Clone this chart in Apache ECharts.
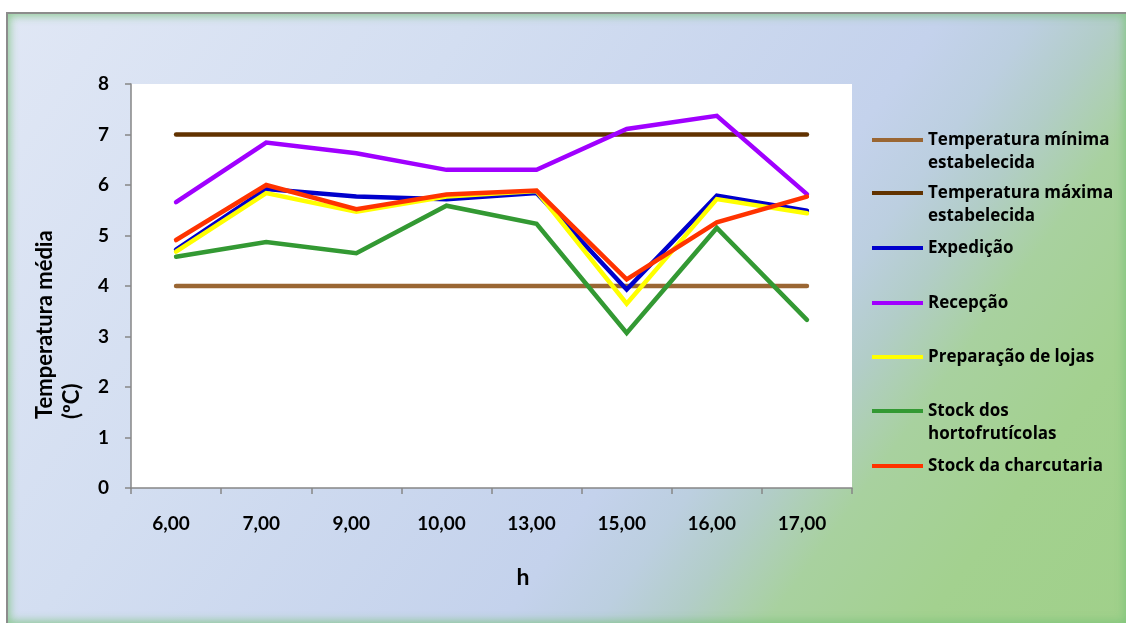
<!DOCTYPE html>
<html>
<head>
<meta charset="utf-8">
<title>Temperatura média por hora</title>
<script src="https://cdn.jsdelivr.net/npm/echarts@6/dist/echarts.min.js"></script>
<style>
  html, body { margin: 0; padding: 0; background: #ffffff; }
  #panel {
    position: absolute; left: 6px; top: 12px; width: 1120px; height: 611px;
    box-sizing: border-box;
    border-top: 2px solid #8c8c8c; border-left: 2px solid #8c8c8c;
    background: linear-gradient(126deg, #e0e7f5 0%, #d3def1 30%, #c4d2ec 60%, #bccfe0 66%, #b2cdc8 71%, #a8d19f 77%, #a3d18f 87%, #a0d08a 100%);
    box-shadow: inset 0 0 9px 2px rgba(120, 195, 120, 0.75);
  }
  #chart { position: absolute; left: 0; top: 0; width: 1126px; height: 623px; }
</style>
</head>
<body>
<div id="panel"></div>
<div id="chart"></div>
<script>
// Hours of measurement (x axis categories)
const hours = ['6,00', '7,00', '9,00', '10,00', '13,00', '15,00', '16,00', '17,00'];

// Reference limits (ºC)
const tempMinima = [4, 4, 4, 4, 4, 4, 4, 4];
const tempMaxima = [7, 7, 7, 7, 7, 7, 7, 7];

// Mean temperature per area (ºC)
const expedicao = [4.72, 5.92, 5.77, 5.72, 5.84, 3.93, 5.79, 5.49];
const rececao = [5.66, 6.84, 6.63, 6.30, 6.30, 7.11, 7.37, 5.82];
const preparacaoLojas = [4.68, 5.84, 5.47, 5.77, 5.88, 3.65, 5.72, 5.44];
const stockHortofruticolas = [4.58, 4.87, 4.65, 5.59, 5.23, 3.07, 5.15, 3.33];
const stockCharcutaria = [4.91, 6.00, 5.52, 5.81, 5.89, 4.13, 5.26, 5.77];

// Y axis ticks
const yTicks = [0, 1, 2, 3, 4, 5, 6, 7, 8];

const seriesDefs = [
  { name: 'Temperatura mínima\nestabelecida', data: tempMinima, color: '#9a6633' },
  { name: 'Temperatura máxima\nestabelecida', data: tempMaxima, color: '#613200' },
  { name: 'Expedição', data: expedicao, color: '#0000cc' },
  { name: 'Recepção', data: rececao, color: '#a000ff' },
  { name: 'Preparação de lojas', data: preparacaoLojas, color: '#ffff00' },
  { name: 'Stock dos\nhortofrutícolas', data: stockHortofruticolas, color: '#339933' },
  { name: 'Stock da charcutaria', data: stockCharcutaria, color: '#ff3300' }
];

// vertical position of each legend entry's line
const legendTops = [140, 193, 248, 303, 357, 411, 466];

const FONT = 'Lato, "Liberation Sans", sans-serif';
const LEGEND_FONT = '"Open Sans", Lato, sans-serif';

const chart = echarts.init(document.getElementById('chart'), null, { renderer: 'canvas' });

const legends = seriesDefs.map((s, i) => {
  const twoLines = s.name.indexOf('\n') >= 0;
  return {
    data: [s.name],
    orient: 'vertical',
    left: 872,
    top: legendTops[i] - (twoLines ? 34.5 : 11.5),
    icon: 'rect',
    itemWidth: 51,
    itemHeight: 4,
    itemGap: 0,
    padding: 0,
    selectedMode: false,
    // a blank first line keeps the first text line level with the legend line
    formatter: name => (twoLines ? ' \n' + name : name),
    textStyle: {
      fontFamily: LEGEND_FONT,
      fontSize: 17,
      fontWeight: 'bold',
      color: '#000000',
      lineHeight: 23
    }
  };
});

const option = {
  backgroundColor: 'transparent',
  animation: false,
  grid: { left: 131, top: 84, width: 721, height: 404, backgroundColor: '#ffffff', show: true, borderWidth: 0 },
  legend: legends,
  xAxis: {
    type: 'category',
    data: hours,
    boundaryGap: true,
    axisLine: { lineStyle: { color: '#868686', width: 1.5 } },
    axisTick: { show: true, length: 6, interval: 0, lineStyle: { color: '#868686', width: 1.5 } },
    axisLabel: {
      interval: 0, margin: 26, color: '#000000',
      fontFamily: FONT, fontSize: 19, fontWeight: 'bold',
      padding: [0, 10, 0, 0]
    }
  },
  yAxis: {
    type: 'value',
    min: yTicks[0],
    max: yTicks[yTicks.length - 1],
    interval: 1,
    splitLine: { show: false },
    axisLine: { show: true, lineStyle: { color: '#868686', width: 1.5 } },
    axisTick: { show: true, length: 6, lineStyle: { color: '#868686', width: 1.5 } },
    axisLabel: { margin: 22, color: '#000000', fontFamily: FONT, fontSize: 19, fontWeight: 'bold' }
  },
  graphic: [
    {
      type: 'text',
      x: 31, y: 419,
      rotation: Math.PI / 2,
      style: {
        text: 'Temperatura média\n(ºC)',
        fontFamily: FONT, fontSize: 22, fontWeight: 'bold',
        fill: '#000000', lineHeight: 27,
        textAlign: 'left', textVerticalAlign: 'top'
      }
    },
    {
      type: 'text',
      x: 523, y: 578,
      style: {
        text: 'h',
        fontFamily: FONT, fontSize: 23, fontWeight: 'bold',
        fill: '#000000', textAlign: 'center', textVerticalAlign: 'middle'
      }
    }
  ],
  series: seriesDefs.map(s => ({
    name: s.name,
    type: 'line',
    data: s.data,
    symbol: 'none',
    color: s.color,
    lineStyle: { color: s.color, width: 4.5, cap: 'round', join: 'miter' }
  }))
};

chart.setOption(option);
</script>
</body>
</html>
